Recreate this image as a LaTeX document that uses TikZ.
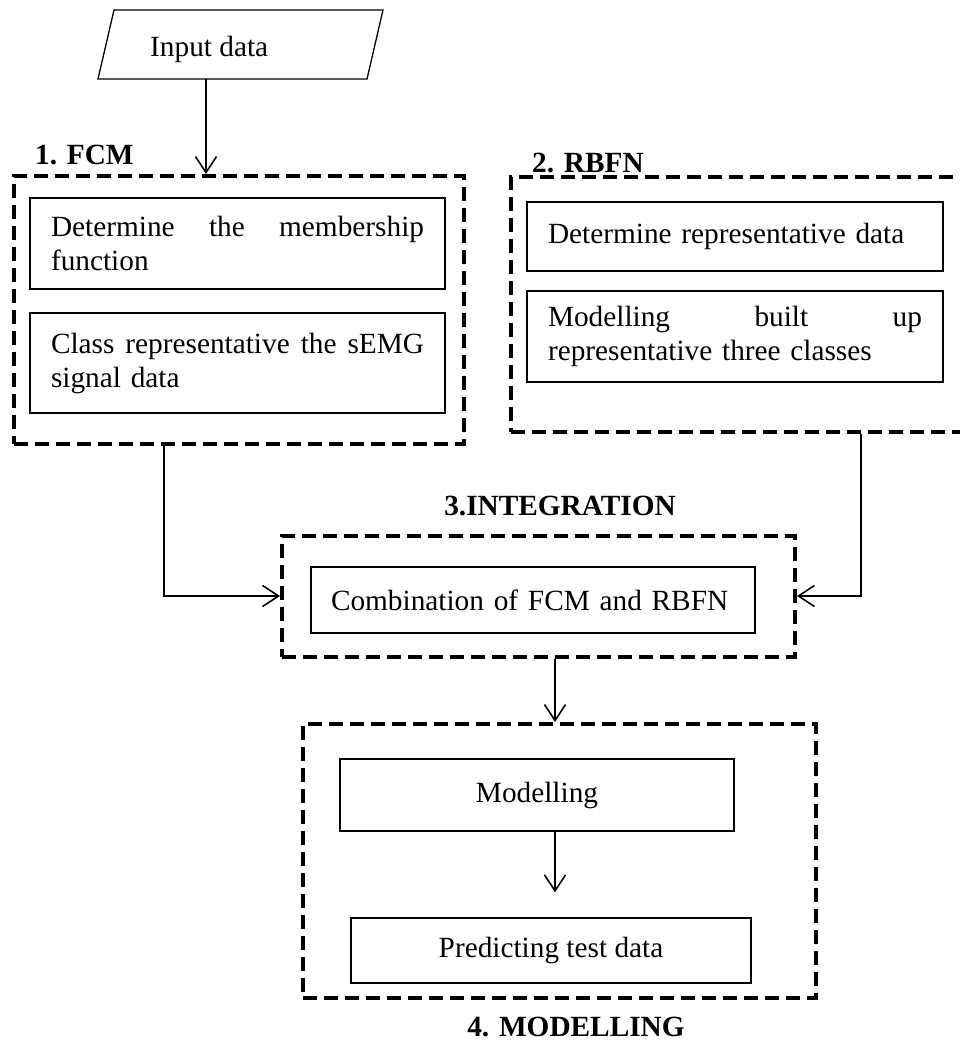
\documentclass[tikz,border=0pt]{standalone}
\usepackage{fontspec}
\setmainfont{Liberation Serif}
\usetikzlibrary{arrows.meta}
\begin{document}
\begin{tikzpicture}[x=1pt,y=-1pt,
  every node/.style={font=\fontsize{29.3}{34}\selectfont},
  stagebox/.style={draw, line width=4pt, dash pattern=on 14pt off 7pt, inner sep=0pt},
  taskbox/.style={draw, line width=1.3pt, inner ysep=0pt, inner xsep=21pt, align=left},
  plainbox/.style={draw, line width=1.3pt, inner sep=0pt, align=center},
  stagelabel/.style={font=\fontsize{29.3}{34}\selectfont\bfseries, inner sep=0pt},
  arr/.style={line width=1.6pt, -{Straight Barb[length=16pt,width=21pt]}}]
\useasboundingbox (0,0) rectangle (960,1043);
\clip (0,0) rectangle (960,1043);

% input parallelogram
\draw[line width=1.3pt] (114,10) -- (383,10) -- (367,79) -- (98,79) -- cycle;
\node[anchor=base west, inner sep=0pt] (input) at (150,57) {Input data};
\coordinate (inbot) at (206,79);

% stage frames
\node[stagebox, minimum width=450pt, minimum height=268pt] (fcm) at (239,310) {};
\node[stagebox, minimum width=461pt, minimum height=255pt] (rbfn) at (741.5,304.5) {};
\node[stagebox, minimum width=513pt, minimum height=121pt] (integ) at (538.5,596) {};
\node[stagebox, minimum width=513pt, minimum height=274pt] (model) at (559.5,861) {};

% stage titles
\node[stagelabel, anchor=base west] (fcmlabel) at (35,165) {1. FCM};
\node[stagelabel, anchor=base west] (rbfnlabel) at (532,172) {2. RBFN};
\node[stagelabel, anchor=base] (integlabel) at (560,515) {3.INTEGRATION};
\node[stagelabel, anchor=base] (modellabel) at (576,1036) {4. MODELLING};

% FCM tasks
\node[taskbox, text width=373pt, minimum height=91pt] (memb) at (237.5,243.5)
  {Determine\hfill the\hfill membership\\function};
\node[taskbox, text width=373pt, minimum height=100pt] (cls) at (237.5,363)
  {Class\hfill representative\hfill the\hfill sEMG\\signal data};

% RBFN tasks
\node[taskbox, text width=374pt, minimum height=69pt] (repr) at (735,236.5)
  {Determine representative data};
\node[taskbox, text width=374pt, minimum height=91pt] (built) at (735,336.5)
  {Modelling\hfill built\hfill up\\representative three classes};

% integration task
\node[taskbox, inner xsep=20pt, text width=404pt, minimum height=66pt] (comb) at (533,600)
  {Combination of FCM and RBFN};

% modelling tasks
\node[plainbox, minimum width=394pt, minimum height=72pt] (modb) at (537,795) {Modelling};
\node[plainbox, minimum width=400pt, minimum height=65pt] (pred) at (551,950.5) {Predicting test data};

% connectors
\draw[arr] (inbot) -- (inbot |- fcm.north);
\draw[arr] ([xshift=-75pt]fcm.south) |- (integ.west);
\draw[arr] ([xshift=119.5pt]rbfn.south) |- (integ.east);
\draw[arr] ([xshift=16.5pt]integ.south) -- ([xshift=16.5pt]integ.south |- model.north);
\draw[arr] ([xshift=18pt]modb.south) -- ([xshift=4pt,yshift=25pt]pred.north);
\end{tikzpicture}
\end{document}
